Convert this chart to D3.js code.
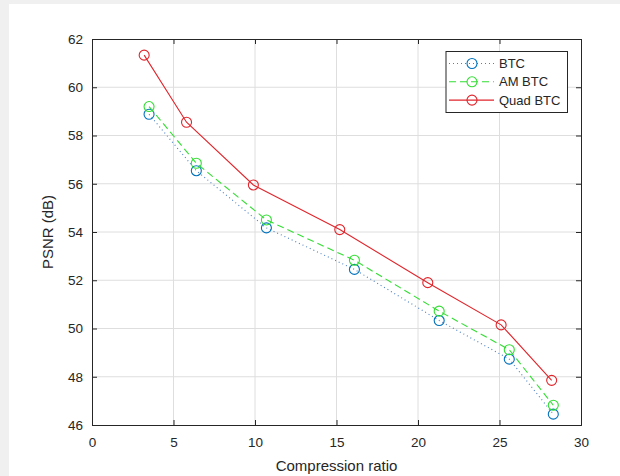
<!DOCTYPE html>
<html>
<head>
<meta charset="utf-8">
<script src="https://cdn.jsdelivr.net/npm/d3@7"></script>
<style>
  html, body { margin: 0; padding: 0; background: #f0f0f0; }
  svg { display: block; }
  text { font-family: "Liberation Sans", Arial, sans-serif; fill: #262626; }
</style>
</head>
<body>
<svg id="chart" width="620" height="476"></svg>
<script>
// ---- data ------------------------------------------------------------------
const btcX   = [3.5, 6.4, 10.7, 16.1, 21.3, 25.6, 28.3];
const btcY   = [58.88, 56.54, 54.17, 52.45, 50.33, 48.73, 46.45];
const amY    = [59.2, 56.85, 54.5, 52.83, 50.72, 49.12, 46.82];
const quadX  = [3.2, 5.8, 9.9, 15.2, 20.6, 25.1, 28.2];
const quadY  = [61.33, 58.55, 55.95, 54.1, 51.9, 50.15, 47.85];
const xTicks = [0, 5, 10, 15, 20, 25, 30];
const yTicks = [46, 48, 50, 52, 54, 56, 58, 60, 62];

const series = [
  { name: 'BTC',      xs: btcX,  ys: btcY,  line: '#4a7fc1', mark: '#0072bd', dash: '1,3' },
  { name: 'AM BTC',   xs: btcX,  ys: amY,   line: '#33dd33', mark: '#33dd33', dash: '7,4' },
  { name: 'Quad BTC', xs: quadX, ys: quadY, line: '#e0252b', mark: '#e0252b', dash: null }
];

// ---- layout ----------------------------------------------------------------
const svg = d3.select('#chart');
const m = { left: 92, top: 39, right: 581, bottom: 425 };

svg.append('rect').attr('x', 9).attr('y', 4).attr('width', 611).attr('height', 472)
  .attr('fill', '#fff');

const x = d3.scaleLinear().domain([0, 30]).range([m.left, m.right]);
const y = d3.scaleLinear().domain([46, 62]).range([m.bottom, m.top]);

// grid
const grid = svg.append('g').attr('stroke', '#dedede').attr('stroke-width', 1);
xTicks.slice(1, -1).forEach(t => grid.append('line')
  .attr('x1', x(t)).attr('x2', x(t)).attr('y1', m.top).attr('y2', m.bottom));
yTicks.slice(1, -1).forEach(t => grid.append('line')
  .attr('x1', m.left).attr('x2', m.right).attr('y1', y(t)).attr('y2', y(t)));

// axes (inward ticks, box on)
const xAx = svg.append('g').attr('transform', `translate(0,${m.bottom})`)
  .call(d3.axisBottom(x).tickValues(xTicks).tickSize(-5).tickPadding(12));
const xTop = svg.append('g').attr('transform', `translate(0,${m.top})`)
  .call(d3.axisTop(x).tickValues(xTicks).tickSize(-5).tickFormat(''));
const yAx = svg.append('g').attr('transform', `translate(${m.left},0)`)
  .call(d3.axisLeft(y).tickValues(yTicks).tickSize(-5).tickPadding(9));
const yRight = svg.append('g').attr('transform', `translate(${m.right},0)`)
  .call(d3.axisRight(y).tickValues(yTicks).tickSize(-5).tickFormat(''));
[xAx, xTop, yAx, yRight].forEach(g => {
  g.select('.domain').attr('stroke', '#262626');
  g.selectAll('.tick line').attr('stroke', '#262626');
  g.selectAll('.tick text').attr('font-size', 13.5).attr('fill', '#4d4d4d')
    .style('font-family', '"Liberation Sans", Arial, sans-serif');
});

// axis titles
svg.append('text').attr('x', (m.left + m.right) / 2).attr('y', 471)
  .attr('text-anchor', 'middle').attr('font-size', 15).text('Compression ratio');
svg.append('text').attr('transform', `translate(53,${(m.top + m.bottom) / 2}) rotate(-90)`)
  .attr('text-anchor', 'middle').attr('font-size', 15).text('PSNR (dB)');

// ---- series ----------------------------------------------------------------
const line = d3.line().x(d => x(d[0])).y(d => y(d[1]));
series.forEach(s => {
  const pts = s.xs.map((v, i) => [v, s.ys[i]]);
  svg.append('path').datum(pts).attr('d', line).attr('fill', 'none')
    .attr('stroke', s.line).attr('stroke-width', 1.1)
    .attr('stroke-dasharray', s.dash);
  svg.append('g').selectAll('circle').data(pts).join('circle')
    .attr('cx', d => x(d[0])).attr('cy', d => y(d[1])).attr('r', 5)
    .attr('fill', 'none').attr('stroke', s.mark).attr('stroke-width', 1.1);
});

// ---- legend ----------------------------------------------------------------
const lg = svg.append('g');
lg.append('rect').attr('x', 446).attr('y', 51.5).attr('width', 121.5).attr('height', 61)
  .attr('fill', '#fff').attr('stroke', '#262626').attr('stroke-width', 1);
series.forEach((s, i) => {
  const ly = 63.5 + i * 18.3;
  lg.append('line').attr('x1', 449).attr('x2', 494).attr('y1', ly).attr('y2', ly)
    .attr('stroke', s.line).attr('stroke-width', 1.1).attr('stroke-dasharray', s.dash);
  lg.append('circle').attr('cx', 472).attr('cy', ly).attr('r', 5)
    .attr('fill', 'none').attr('stroke', s.mark).attr('stroke-width', 1.1);
  lg.append('text').attr('x', 499).attr('y', ly + 4.5).attr('font-size', 13)
    .text(s.name);
});
</script>
</body>
</html>
